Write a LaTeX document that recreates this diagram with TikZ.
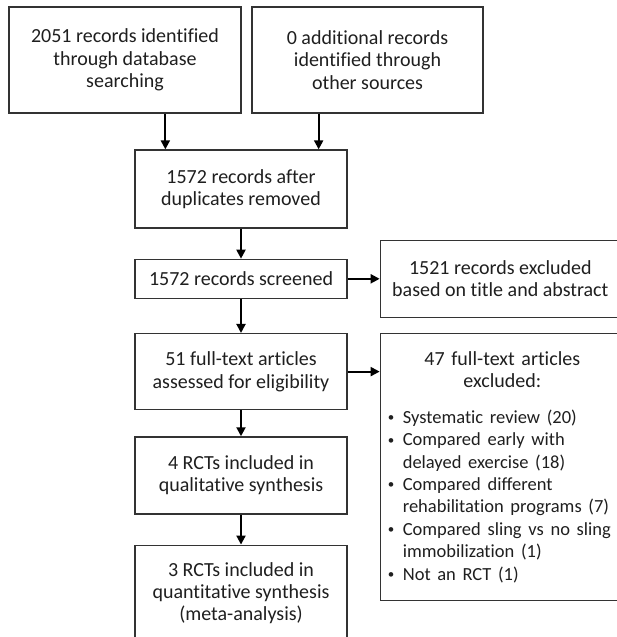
\documentclass[tikz,border=0pt]{standalone}
\usepackage{fontspec}
\setmainfont[Ligatures=NoCommon]{Carlito}
\usepackage{tikz}
\usetikzlibrary{arrows.meta, positioning, calc}

\newcommand{\exitem}[1]{\mbox{\makebox[15pt][l]{\raisebox{1.5pt}{\scalebox{0.7}{\textbullet}}}#1}}
\newcommand{\exmore}[1]{\mbox{\hspace*{15pt}#1}}

\begin{document}
\begin{tikzpicture}[x=1pt, y=1pt,
                node distance=30pt,
                font=\fontsize{20}{22.4}\selectfont,
                box/.style={rectangle, draw=black!80, line width=1.3pt, fill=white, text=black!88, minimum width=212pt, align=center, inner sep=3pt},
                exbox/.style={rectangle, draw=black!80, line width=1.3pt, fill=white, text=black!88, minimum width=240pt, align=center, inner sep=3pt},
                arrow/.style={-{Triangle[length=9pt, width=9pt]}, line width=2pt}
            ]
                \clip (0,0) rectangle (617,-637);
                \fill[white] (0,0) rectangle (617,-637);

                % identification
                \node (db) [box, minimum width=232pt, minimum height=106pt] at (125,-60) {2051 records identified \\ through database \\ searching};
                \node (other) [box, minimum width=231pt, minimum height=106pt] at (367.5,-60) {0 additional records \\ identified through \\ other sources};
                \node (dup) [box, minimum height=78pt] at (241,-189) {1572 records after \\ duplicates removed};

                % screening, eligibility, included
                \node (screen) [box, minimum height=39pt, below=30pt of dup] {1572 records screened};
                \node (full) [box, minimum height=76pt, below=34pt of screen] {51 full-text articles \\ assessed for eligibility};
                \node (qual) [box, minimum height=77pt, below=26pt of full] {4 RCTs included in \\ qualitative synthesis};
                \node (quant) [box, minimum height=96pt, below=30pt of qual] {3 RCTs included in \\ quantitative synthesis \\ (meta-analysis)};

                % exclusions
                \node (excl1) [exbox, minimum height=77pt, right=32pt of screen] {1521 records excluded \\ based on title and abstract};
                \node (excl2) [exbox, minimum height=267pt, text width=229pt, inner xsep=7.5pt, align=left, anchor=north west] at ([xshift=32pt]full.north east) {%
                    \makebox[229pt]{47 full-text articles} \\
                    \makebox[229pt]{excluded:} \\[13pt]
                    \fontsize{18.5}{22.4}\selectfont
                    \exitem{Systematic review (20)} \\
                    \exitem{Compared early with} \\
                    \exmore{delayed exercise (18)} \\
                    \exitem{Compared different} \\
                    \exmore{rehabilitation programs (7)} \\
                    \exitem{Compared sling vs no sling} \\
                    \exmore{immobilization (1)} \\
                    \exitem{Not an RCT (1)}};

                \draw [arrow] ([xshift=31pt]dup.north west |- db.south) -- ([xshift=31pt]dup.north west);
                \draw [arrow] ([xshift=-29pt]dup.north east |- other.south) -- ([xshift=-29pt]dup.north east);
                \draw [arrow] (dup) -- (screen);
                \draw [arrow] (screen) -- (full);
                \draw [arrow] (full) -- (qual);
                \draw [arrow] (qual) -- (quant);
                \draw [arrow] (screen) -- (screen -| excl1.west);
                \draw [arrow] (full) -- (full -| excl2.west);
            \end{tikzpicture}
\end{document}
